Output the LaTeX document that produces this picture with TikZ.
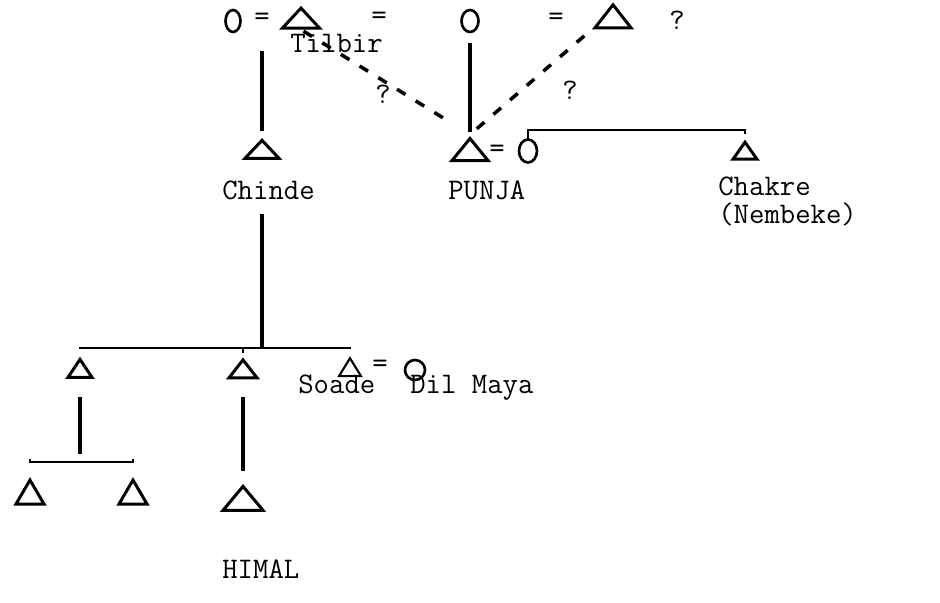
\documentclass[tikz,border=0pt]{standalone}
\usepackage{fontspec}
\usetikzlibrary{shapes.geometric, positioning}

\tikzset{
  male/.style 2 args={isosceles triangle, isosceles triangle stretches,
    shape border rotate=90, draw, line width=1.7pt, inner sep=0pt,
    minimum width=#1, minimum height=#2},
  female/.style 2 args={ellipse, draw, line width=1.5pt, inner sep=0pt,
    minimum width=#1, minimum height=#2},
  marr/.style={font=\ttfamily\fontsize{17}{20}\selectfont, inner sep=0pt},
  lbl/.style={font=\ttfamily\fontsize{17}{20}\selectfont, inner sep=0pt, anchor=base west},
  kin/.style={line width=2.2pt},
  sibbar/.style={line width=1.1pt},
  guess/.style={line width=2pt, dash pattern=on 0.2cm off 0.24cm}
}

\begin{document}
\begin{tikzpicture}
  \useasboundingbox (0,0) rectangle (18.8,12.04);
  % top row: Tilbir and his wives
  \node[female={0.30cm}{0.44cm}] (o1) at (4.66,11.62) {};
  \node[marr] (eq1) at (5.24,11.66) {=};
  \node[male={0.74cm}{0.40cm}] (tilbir) at (6.02,11.64) {};
  \node[marr] (eq2) at (7.58,11.68) {=};
  \node[female={0.34cm}{0.44cm}] (o2) at (9.40,11.62) {};
  \node[marr] (eq3) at (11.12,11.66) {=};
  \node[male={0.72cm}{0.46cm}] (t2) at (12.26,11.66) {};
  \node[marr] (q1) at (13.54,11.64) {?};
  \node[lbl] (tilbirlbl) at (5.80,10.98) {Tilbir};

  % Chinde, PUNJA and Chakre
  \node[male={0.68cm}{0.36cm}] (chinde) at (5.24,9.02) {};
  \node[lbl] (chindelbl) at (4.44,8.04) {Chinde};
  \node[male={0.72cm}{0.44cm}] (punja) at (9.40,9.00) {};
  \node[marr] (eq4) at (9.94,9.02) {=};
  \node[female={0.36cm}{0.46cm}] (o3) at (10.56,9.02) {};
  \node[lbl] (punjalbl) at (8.96,8.04) {PUNJA};
  \node[male={0.48cm}{0.34cm}] (chakre) at (14.90,8.98) {};
  \node[lbl] (chakrelbl) at (14.36,8.12) {Chakre};
  \node[lbl] (nembekelbl) at ([yshift=-0.56cm]chakrelbl.base west) {(Nembeke)};

  % Chinde's sons
  \node[male={0.48cm}{0.36cm}] (sona) at (1.60,4.62) {};
  \node[male={0.56cm}{0.36cm}] (sonb) at (4.86,4.62) {};
  \node[male={0.44cm}{0.36cm}, line width=1.2pt] (soade) at (7.00,4.64) {};
  \node[marr] (eq5) at (7.60,4.72) {=};
  \node[female={0.40cm}{0.40cm}] (dilmaya) at (8.30,4.64) {};
  \node[lbl] (soadelbl) at (5.96,4.16) {Soade};
  \node[lbl] (dilmayalbl) at (8.20,4.16) {Dil Maya};

  % grandsons
  \node[male={0.56cm}{0.48cm}] (g1) at (0.60,2.12) {};
  \node[male={0.56cm}{0.48cm}] (g2) at (2.66,2.12) {};
  \node[male={0.80cm}{0.48cm}] (himal) at (4.86,2.02) {};
  \node[lbl] (himallbl) at (4.44,0.48) {HIMAL};

  % descent
  \draw[kin, shorten <=0.50cm, shorten >=0.10cm] (eq1) -- (chinde.apex);
  \draw[kin, shorten <=0.20cm, shorten >=0.06cm] (o2.south) -- (punja.apex);
  \draw[guess, shorten <=0.06cm, shorten >=0.45cm] (tilbir.south) -- (punja.apex);
  \draw[guess, shorten <=0.18cm, shorten >=0.10cm] (punja.apex) -- (t2.left corner);
  \node[marr] (q2) at (7.66,10.16) {?};
  \node[marr] (q3) at (11.40,10.24) {?};
  \draw[sibbar] ([yshift=-0.02cm]o3.north) |- ([yshift=0.16cm]chakre.apex) -- ([yshift=0.08cm]chakre.apex);

  \coordinate (sibs) at (5.24,5.08);
  \draw[kin, shorten <=0.26cm] (chindelbl.south -| sibs) -- (sibs);
  \draw[sibbar] ([yshift=0.18cm]sona.apex) |- (sibs) -| ([yshift=0.16cm]soade.apex);
  \draw[sibbar] (sibs -| sonb.apex) -- ++(0,-0.1);

  \coordinate (gsibs) at (1.60,2.80);
  \draw[kin, shorten <=0.36cm, shorten >=0.16cm] (sona.south) -- (gsibs);
  \draw[sibbar] ([yshift=0.34cm]g1.apex) |- (gsibs) -| ([yshift=0.34cm]g2.apex);
  \draw[kin, shorten <=0.36cm, shorten >=0.23cm] (sonb.south) -- (himal.apex);
\end{tikzpicture}
\end{document}
